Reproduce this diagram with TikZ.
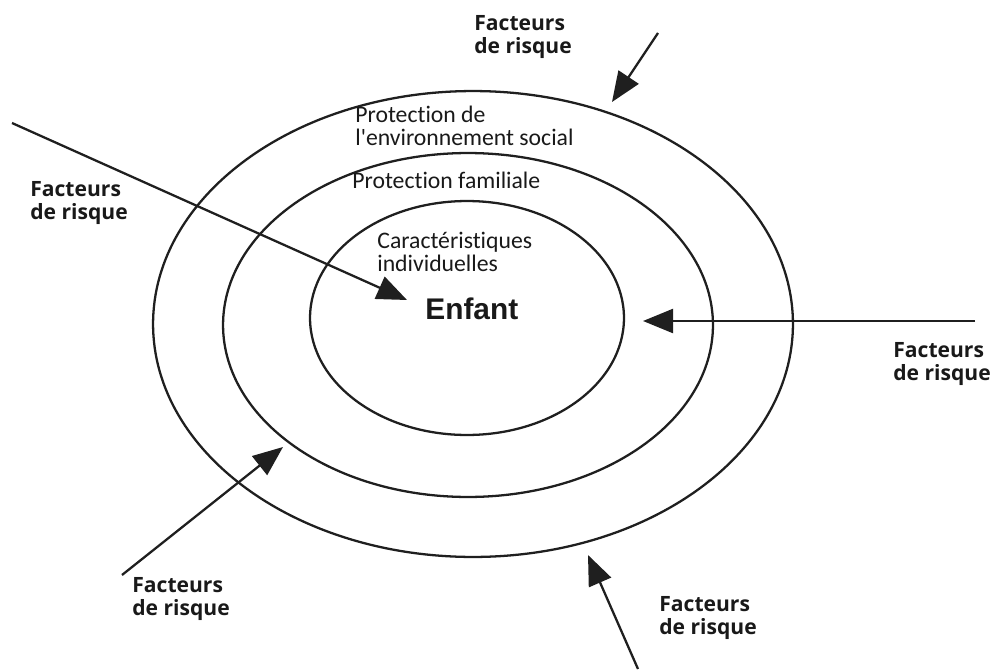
\documentclass[tikz,border=0pt]{standalone}
\usepackage{fontspec}
\setmainfont[Ligatures=NoCommon]{Carlito}
\newfontfamily\arialfont{Liberation Sans}
\newfontfamily\riskfont{Open Sans}
\usetikzlibrary{arrows.meta,shapes.geometric}
\begin{document}
\begin{tikzpicture}[x=0.02cm,y=-0.02cm,
  ring/.style={draw=black!88, line width=1.3pt, ellipse, inner sep=0pt, outer sep=0pt},
  risk/.style={font=\riskfont\fontsize{12}{13.3}\selectfont\bfseries, align=left, anchor=north west, inner sep=0pt, text=black!90},
  zone/.style={font=\fontsize{13.5}{13}\selectfont, align=left, anchor=north west, inner sep=0pt, text=black!90},
  riskarrow/.style={draw=black!88, line width=1.3pt, -{Triangle[length=0.6cm,width=0.48cm]}}]
\useasboundingbox (0,0) rectangle (993,669);

% rings
\node[ring, minimum width=12.8cm, minimum height=9.32cm] (outer) at (473,324) {};
\node[ring, minimum width=9.8cm, minimum height=6.88cm] (middle) at (468,325) {};
\node[ring, minimum width=6.28cm, minimum height=4.68cm] (inner) at (467,318) {};

% zone texts
\node[zone] (social) at (355,106) {Protection de\\l\textquotesingle environnement social};
\node[zone] (famille) at (352,172) {Protection familiale};
\node[zone] (indiv) at (377,232) {Caractéristiques\\individuelles};
\node[anchor=north west, inner sep=0pt, font=\arialfont\fontsize{17}{17}\selectfont\bfseries, text=black!90] (enfant) at (425,298) {Enfant};

% risk labels
\node[risk] (rtop) at (474,15) {Facteurs\\de risque};
\node[risk] (rleft) at (30,181) {Facteurs\\de risque};
\node[risk] (rright) at (893,342) {Facteurs\\de risque};
\node[risk] (rbl) at (132,577) {Facteurs\\de risque};
\node[risk] (rbr) at (659,596) {Facteurs\\de risque};

% arrows
\coordinate (t1) at (658,33);  \coordinate (h1) at (612,102);
\coordinate (t2) at (12,123);  \coordinate (h2) at (407,300);
\coordinate (t3) at (975,321); \coordinate (h3) at (643,321);
\coordinate (t4) at (122,575); \coordinate (h4) at (283,447);
\coordinate (t5) at (638,669); \coordinate (h5) at (588,555);
\draw[riskarrow] (t1) -- (h1);
\draw[riskarrow] (t2) -- (h2);
\draw[riskarrow] (t3) -- (h3);
\draw[riskarrow] (t4) -- (h4);
\draw[riskarrow] (t5) -- (h5);
\end{tikzpicture}
\end{document}
